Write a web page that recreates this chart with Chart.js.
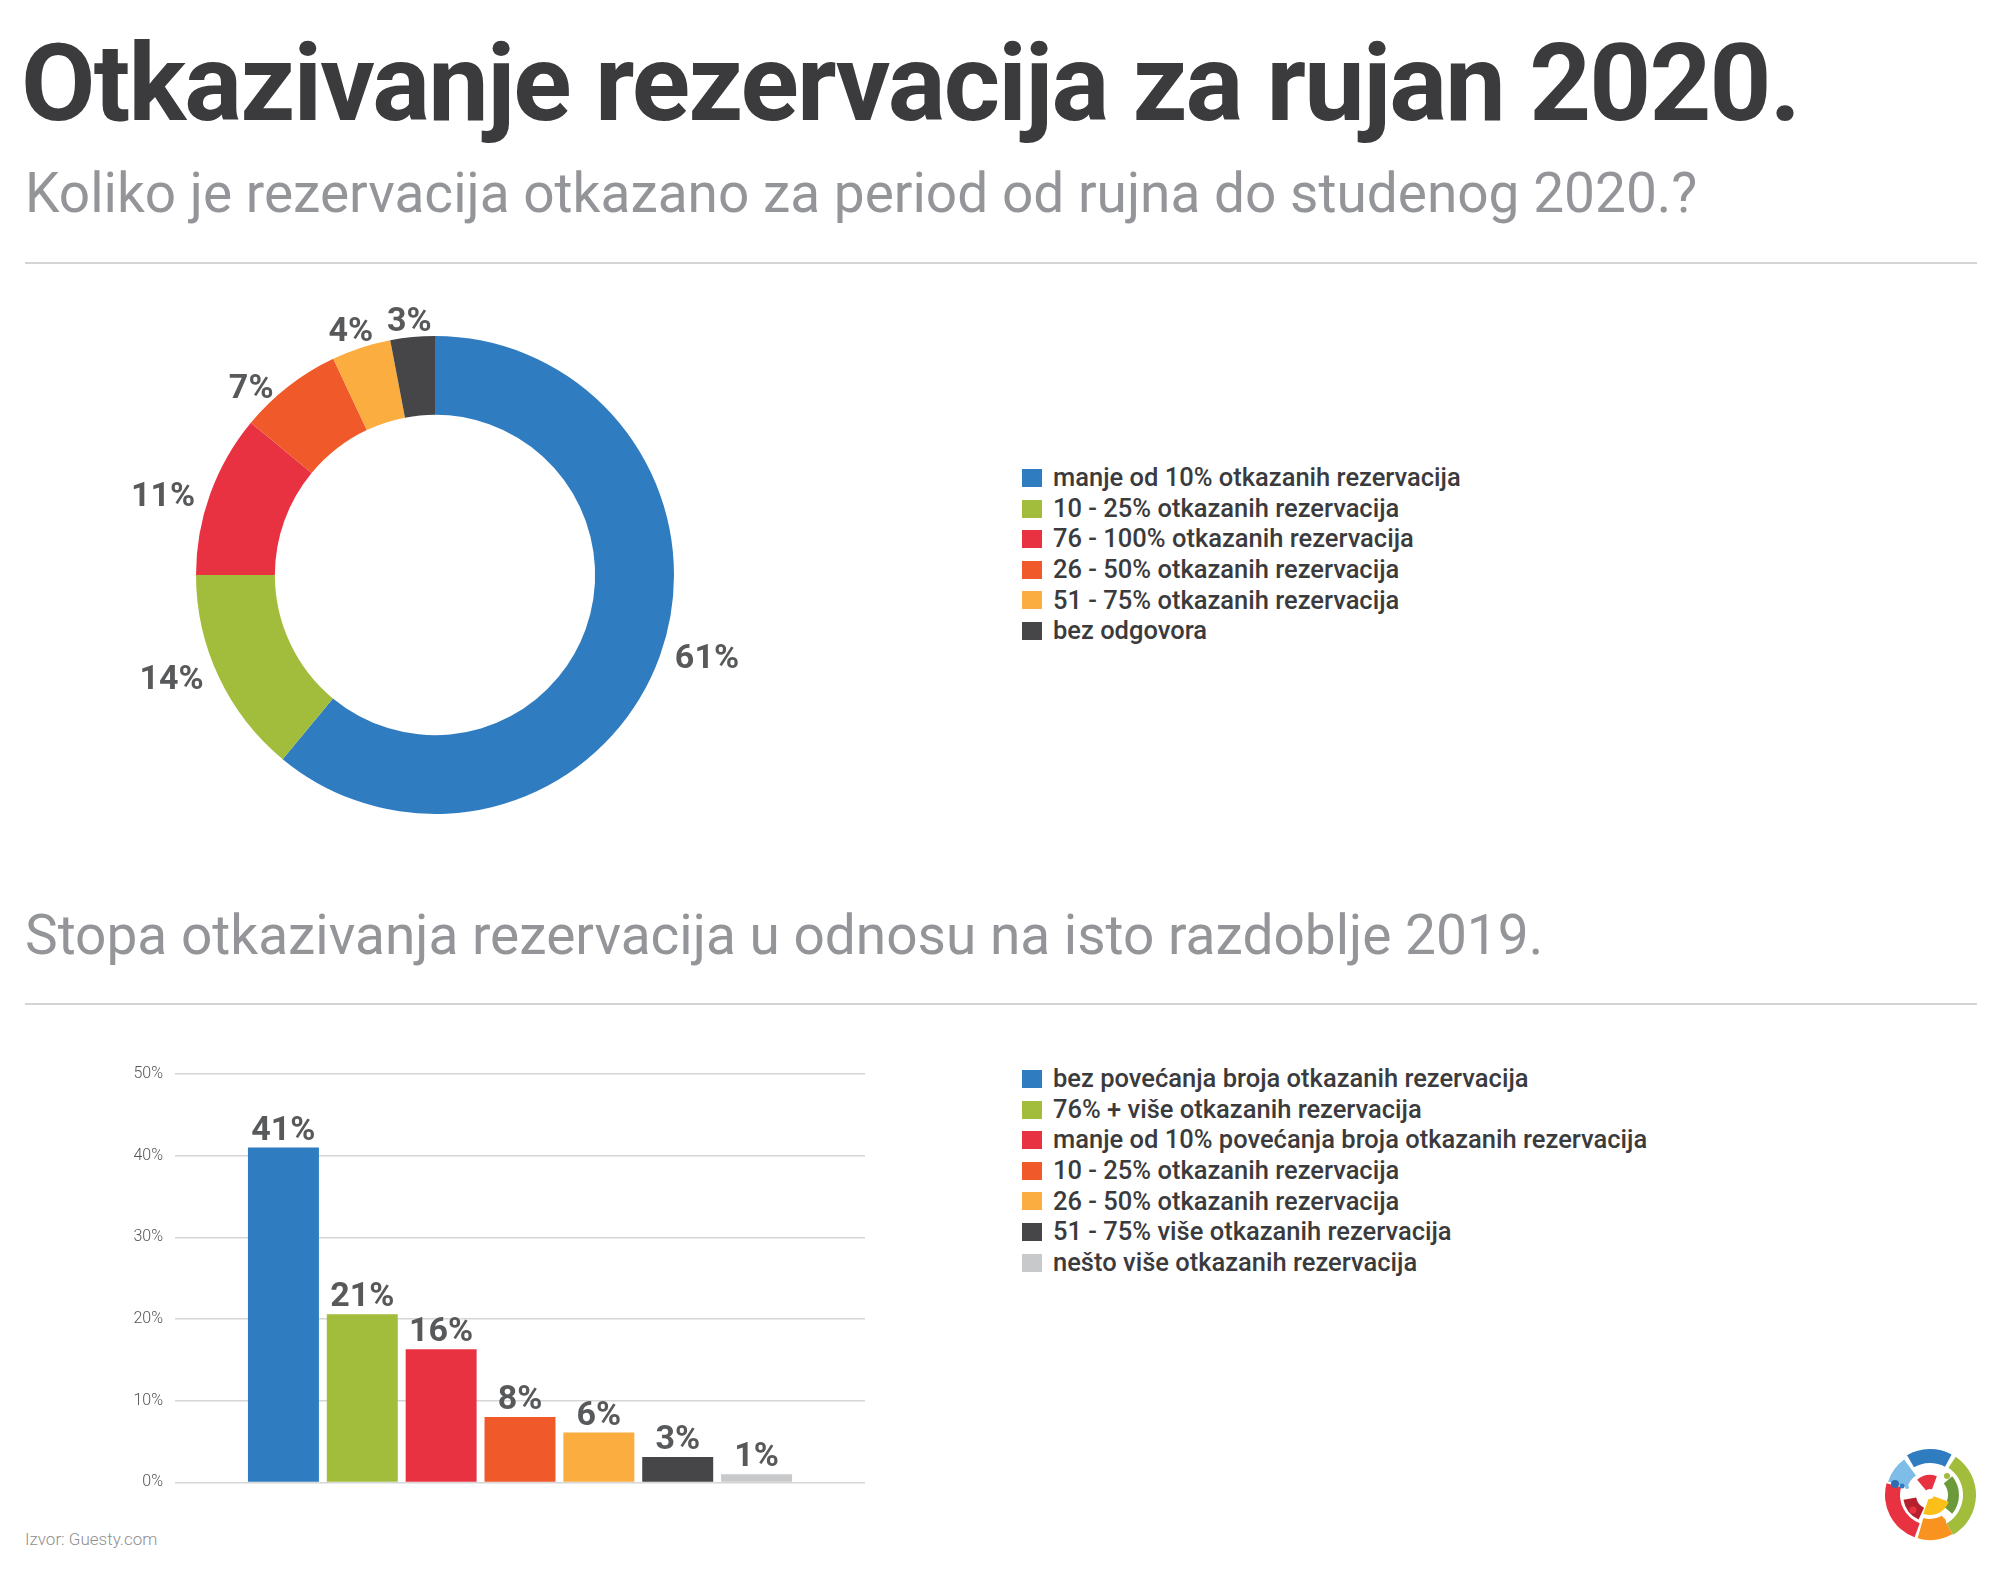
<!DOCTYPE html>
<html><head><meta charset="utf-8">
<script src="https://cdn.jsdelivr.net/npm/chart.js@4.4.0/dist/chart.umd.min.js"></script>
<style>
html,body{margin:0;padding:0;background:#fff;}
body{width:2000px;height:1578px;position:relative;overflow:hidden;font-family:Roboto,"Noto Sans",sans-serif;}
.abs{position:absolute;white-space:nowrap;line-height:1;}
#title{left:21px;top:29px;font-size:108px;font-weight:700;color:#3b3b3d;letter-spacing:-1.8px;}
.sub{left:25px;font-size:55px;font-weight:400;color:#939598;}
#sub1{top:166px;}
#sub2{top:908px;}
.sep{left:25px;width:1952px;height:0;border-top:2px solid #d4d4d4;}
#sep1{top:262px;}
#sep2{top:1003px;}
.legend{left:1022px;}
.row{position:absolute;left:0;height:30px;display:flex;align-items:center;white-space:nowrap;}
.box{width:20px;height:18px;margin-right:11px;flex:none;}
.txt{font-size:25.5px;font-weight:500;color:#3b3b3d;}
#src{left:25px;top:1531px;font-size:17px;font-weight:300;color:#8f8f91;}
</style></head>
<body>
<div id="title" class="abs">Otkazivanje rezervacija za rujan 2020.</div>
<div id="sub1" class="abs sub">Koliko je rezervacija otkazano za period od rujna do studenog 2020.?</div>
<div id="sep1" class="abs sep"></div>
<div id="sub2" class="abs sub">Stopa otkazivanja rezervacija u odnosu na isto razdoblje 2019.</div>
<div id="sep2" class="abs sep"></div>
<canvas id="donut" class="abs" width="678" height="678" style="left:96px;top:236px;"></canvas>
<canvas id="bars" class="abs" width="900" height="465" style="left:0px;top:1039px;"></canvas>
<div id="leg1" class="abs legend" style="top:463px;"></div>
<div id="leg2" class="abs legend" style="top:1064px;"></div>
<div id="src" class="abs">Izvor: Guesty.com</div>
<svg id="logo" class="abs" style="left:1875px;top:1440px;" width="110" height="110" viewBox="0 0 110 110"></svg>
<script>
// ---- data ----
const donutLabels = ['manje od 10% otkazanih rezervacija','10 - 25% otkazanih rezervacija','76 - 100% otkazanih rezervacija','26 - 50% otkazanih rezervacija','51 - 75% otkazanih rezervacija','bez odgovora'];
const donutValues = [61, 14, 11, 7, 4, 3];
const donutColors = ['#2f7cc0','#a1bd3b','#e93241','#f05a2b','#fbad40','#464648'];

const barLabels = ['bez povećanja broja otkazanih rezervacija','76% + više otkazanih rezervacija','manje od 10% povećanja broja otkazanih rezervacija','10 - 25% otkazanih rezervacija','26 - 50% otkazanih rezervacija','51 - 75% više otkazanih rezervacija','nešto više otkazanih rezervacija'];
const barValues = [41, 20.6, 16.3, 8, 6.1, 3.1, 1];
const barValueLabels = ['41%','21%','16%','8%','6%','3%','1%'];
const barColors = ['#2f7cc0','#a1bd3b','#e93241','#f05a2b','#fbad40','#464648','#c8c9cb'];
const yTickValues = [0, 10, 20, 30, 40, 50];
const yTickLabels = ['0%','10%','20%','30%','40%','50%'];

// ---- legends ----
function buildLegend(id, labels, colors){
  const el = document.getElementById(id);
  labels.forEach((l,i)=>{
    const r = document.createElement('div'); r.className='row'; r.style.top=(i*30.6)+'px';
    const b = document.createElement('div'); b.className='box'; b.style.background=colors[i];
    const t = document.createElement('div'); t.className='txt'; t.textContent=l;
    r.appendChild(b); r.appendChild(t); el.appendChild(r);
  });
}
buildLegend('leg1', donutLabels, donutColors);
buildLegend('leg2', barLabels, barColors);

// ---- donut ----
const donutLabelPlugin = {
  id:'donutLabels',
  afterDatasetsDraw(chart){
    const ctx = chart.ctx, meta = chart.getDatasetMeta(0);
    ctx.save();
    ctx.font = 'bold 34px Roboto'; ctx.fillStyle = '#58595b';
    ctx.textAlign = 'center'; ctx.textBaseline = 'alphabetic';
    meta.data.forEach((arc,i)=>{
      const p = arc.getProps(['x','y','startAngle','endAngle','outerRadius'], true);
      const mid = (p.startAngle + p.endAngle)/2;
      const txt = donutValues[i] + '%';
      const w = ctx.measureText(txt).width, h = 25;
      const dx = Math.cos(mid), dy = Math.sin(mid);
      const ex = p.x + dx*p.outerRadius, ey = p.y + dy*p.outerRadius;
      let cx, cy;
      if (Math.abs(dx) >= 0.55) {
        cx = ex + Math.sign(dx)*(w/2 + 15); cy = ey;
      } else {
        cx = ex + dx*w*0.75; cy = ey + Math.sign(dy)*(h/2 + 6);
      }
      ctx.fillText(txt, cx, cy + 12);
    });
    ctx.restore();
  }
};
new Chart(document.getElementById('donut'), {
  type:'doughnut',
  data:{labels:donutLabels, datasets:[{data:donutValues, backgroundColor:donutColors, borderWidth:0}]},
  options:{
    responsive:false, animation:false, cutout:'67%',
    layout:{padding:100},
    plugins:{legend:{display:false}, tooltip:{enabled:false}}
  },
  plugins:[donutLabelPlugin]
});

// ---- bars ----
const barLabelPlugin = {
  id:'barLabels',
  afterDatasetsDraw(chart){
    const ctx = chart.ctx;
    ctx.save();
    ctx.font = 'bold 34px Roboto'; ctx.fillStyle = '#58595b';
    ctx.textAlign = 'center'; ctx.textBaseline = 'alphabetic';
    chart.data.datasets.forEach((ds,i)=>{
      const el = chart.getDatasetMeta(i).data[0];
      ctx.fillText(barValueLabels[i], el.x, el.y - 8);
    });
    ctx.restore();
  }
};
new Chart(document.getElementById('bars'), {
  type:'bar',
  data:{
    labels:[''],
    datasets: barLabels.map((l,i)=>({label:l, data:[barValues[i]], backgroundColor:barColors[i], borderWidth:0}))
  },
  options:{
    responsive:false, animation:false,
    layout:{padding:{top:35, right:35, left:0, bottom:20}},
    datasets:{bar:{categoryPercentage:0.80, barPercentage:0.90}},
    scales:{
      x:{display:false},
      y:{
        min:0, max:50,
        afterFit(scale){ scale.width = 175; },
        afterBuildTicks(scale){ scale.ticks = yTickValues.map(v=>({value:v})); },
        border:{display:false},
        grid:{color:'#d6d6d6', lineWidth:1.5, drawTicks:false},
        ticks:{padding:12, color:'#555557', font:{family:'Roboto', size:16, weight:300},
          callback:(v)=>yTickLabels[yTickValues.indexOf(v)]}
      }
    },
    plugins:{legend:{display:false}, tooltip:{enabled:false}}
  },
  plugins:[barLabelPlugin]
});

// ---- logo (decorative) ----
(function(){
  const svg = document.getElementById('logo');
  const cx=55, cy=55;
  function pt(r,a){const t=(a-90)*Math.PI/180;return [cx+r*Math.cos(t), cy+r*Math.sin(t)];}
  function sector(r0,r1,a0,a1,color){
    const [x0,y0]=pt(r1,a0),[x1,y1]=pt(r1,a1),[x2,y2]=pt(r0,a1),[x3,y3]=pt(r0,a0);
    const large=(a1-a0)>180?1:0;
    const p=document.createElementNS('http://www.w3.org/2000/svg','path');
    p.setAttribute('d',`M${x0},${y0} A${r1},${r1} 0 ${large} 1 ${x1},${y1} L${x2},${y2} A${r0},${r0} 0 ${large} 0 ${x3},${y3} Z`);
    p.setAttribute('fill',color); svg.appendChild(p);
  }
  function dot(x,y,r,color){const c=document.createElementNS('http://www.w3.org/2000/svg','circle');c.setAttribute('cx',x);c.setAttribute('cy',y);c.setAttribute('r',r);c.setAttribute('fill',color);svg.appendChild(c);}
  sector(32,46,-30,28,'#2f7cc0');
  sector(24,44,-72,-36,'#7dbde8');
  sector(33,46,34,150,'#a1bd3b');
  sector(18,29,50,130,'#6a9a3a');
  sector(30,45,200,285,'#e93241');
  sector(14,27,205,260,'#b5202e');
  sector(24,45,150,196,'#f7931e');
  sector(4,20,110,200,'#fbbf1a');
  sector(6,20,-40,20,'#e93241');
  dot(20,44,4,'#2f6db0'); dot(27,46,2.5,'#2f7cc0'); dot(32,47,2,'#7dbde8');
  dot(72,36,3,'#a1bd3b'); dot(66,82,5,'#f7931e'); dot(38,70,3.5,'#e93241');
})();
</script>
</body></html>
